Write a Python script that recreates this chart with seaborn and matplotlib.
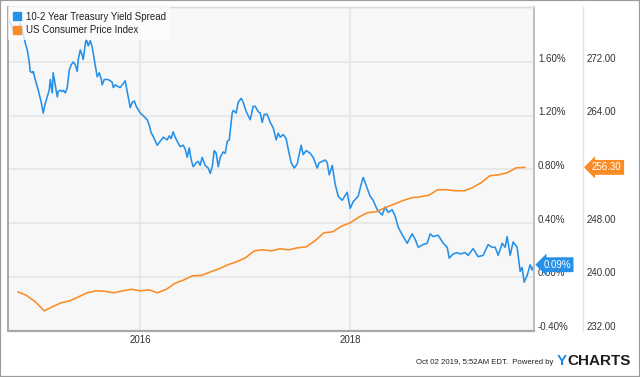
import numpy as np
import pandas as pd
import matplotlib
matplotlib.use("Agg")
import matplotlib.pyplot as plt
import matplotlib.transforms as mtransforms
from matplotlib.lines import Line2D
from matplotlib.patches import Rectangle
import seaborn as sns

# ---------------- data ----------------
series_names = ["10-2 Year Treasury Yield Spread", "US Consumer Price Index"]

# 10-2 year spread: observation time (decimal year) and value in percent
spread_year = [
    2014.743, 2014.771, 2014.790, 2014.810, 2014.829, 2014.857, 2014.876, 2014.905, 2014.924, 2014.943,
    2014.952, 2014.971, 2014.981, 2015.000, 2015.029, 2015.057, 2015.076, 2015.095, 2015.114, 2015.133,
    2015.143, 2015.162, 2015.171, 2015.190, 2015.210, 2015.219, 2015.238, 2015.257, 2015.267, 2015.286,
    2015.305, 2015.324, 2015.343, 2015.362, 2015.381, 2015.400, 2015.410, 2015.429, 2015.448, 2015.457,
    2015.476, 2015.486, 2015.505, 2015.524, 2015.543, 2015.571, 2015.590, 2015.610, 2015.629, 2015.638,
    2015.657, 2015.667, 2015.695, 2015.733, 2015.743, 2015.762, 2015.781, 2015.810, 2015.838, 2015.857,
    2015.876, 2015.905, 2015.924, 2015.943, 2015.962, 2016.000, 2016.029, 2016.067, 2016.086, 2016.105,
    2016.114, 2016.133, 2016.162, 2016.190, 2016.219, 2016.238, 2016.257, 2016.276, 2016.295, 2016.314,
    2016.333, 2016.352, 2016.381, 2016.410, 2016.429, 2016.448, 2016.467, 2016.486, 2016.505, 2016.533,
    2016.552, 2016.571, 2016.590, 2016.619, 2016.648, 2016.667, 2016.686, 2016.705, 2016.724, 2016.743,
    2016.762, 2016.790, 2016.810, 2016.829, 2016.848, 2016.876, 2016.886, 2016.914, 2016.933, 2016.962,
    2016.981, 2017.010, 2017.048, 2017.076, 2017.095, 2017.124, 2017.143, 2017.162, 2017.181, 2017.210,
    2017.238, 2017.267, 2017.295, 2017.314, 2017.333, 2017.362, 2017.390, 2017.410, 2017.438, 2017.467,
    2017.495, 2017.533, 2017.552, 2017.581, 2017.619, 2017.648, 2017.686, 2017.705, 2017.733, 2017.762,
    2017.781, 2017.800, 2017.829, 2017.857, 2017.886, 2017.924, 2017.971, 2018.000, 2018.029, 2018.076,
    2018.105, 2018.124, 2018.162, 2018.190, 2018.219, 2018.257, 2018.305, 2018.333, 2018.362, 2018.400,
    2018.429, 2018.457, 2018.505, 2018.543, 2018.590, 2018.619, 2018.648, 2018.695, 2018.733, 2018.762,
    2018.790, 2018.838, 2018.886, 2018.924, 2018.943, 2018.981, 2019.019, 2019.048, 2019.095, 2019.124,
    2019.171, 2019.219, 2019.267, 2019.314, 2019.352, 2019.381, 2019.410, 2019.448, 2019.476, 2019.495,
    2019.524, 2019.552, 2019.590, 2019.619, 2019.638, 2019.657, 2019.686, 2019.714, 2019.733, 2019.752,
]
spread_pct = [
    1.92, 1.88, 1.83, 1.85, 1.83, 1.89, 1.84, 1.74, 1.69, 1.60,
    1.53, 1.52, 1.53, 1.47, 1.39, 1.30, 1.22, 1.29, 1.34, 1.39,
    1.47, 1.37, 1.52, 1.43, 1.34, 1.38, 1.39, 1.38, 1.39, 1.37,
    1.41, 1.54, 1.58, 1.60, 1.58, 1.53, 1.62, 1.69, 1.65, 1.62,
    1.73, 1.77, 1.72, 1.76, 1.71, 1.58, 1.49, 1.52, 1.47, 1.43,
    1.47, 1.47, 1.47, 1.45, 1.41, 1.43, 1.42, 1.41, 1.44, 1.46,
    1.38, 1.26, 1.30, 1.31, 1.27, 1.22, 1.20, 1.17, 1.13, 1.07,
    1.06, 1.03, 0.98, 1.01, 1.04, 1.03, 1.02, 1.05, 1.03, 1.08,
    1.04, 1.01, 0.97, 0.98, 0.95, 0.89, 0.96, 0.87, 0.82, 0.85,
    0.86, 0.83, 0.89, 0.83, 0.81, 0.77, 0.82, 0.94, 0.92, 0.82,
    0.89, 0.93, 0.92, 1.01, 1.02, 1.22, 1.24, 1.22, 1.30, 1.33,
    1.30, 1.23, 1.17, 1.27, 1.27, 1.23, 1.22, 1.15, 1.21, 1.21,
    1.15, 1.11, 1.02, 1.07, 1.04, 1.06, 1.03, 0.95, 0.85, 0.81,
    0.84, 0.98, 0.91, 0.94, 0.92, 0.89, 0.81, 0.85, 0.86, 0.87,
    0.85, 0.76, 0.83, 0.69, 0.60, 0.57, 0.63, 0.51, 0.56, 0.60,
    0.69, 0.74, 0.66, 0.60, 0.57, 0.50, 0.46, 0.52, 0.48, 0.50,
    0.45, 0.37, 0.30, 0.25, 0.32, 0.28, 0.22, 0.24, 0.25, 0.32,
    0.30, 0.31, 0.25, 0.22, 0.14, 0.17, 0.18, 0.17, 0.18, 0.16,
    0.21, 0.15, 0.16, 0.24, 0.22, 0.22, 0.16, 0.25, 0.22, 0.30,
    0.16, 0.26, 0.22, 0.04, 0.07, -0.04, 0.01, 0.09, 0.05, 0.09,
]

# CPI, monthly values Oct 2014 .. Aug 2019 (plotted at the start of the following month)
cpi_first_plot_date = "2014-11-01"
cpi_values = [
    237.76, 237.24, 236.27, 234.93, 235.53, 236.13, 236.42, 237.02, 237.62, 237.91,
    237.84, 237.62, 237.91, 238.14, 237.91, 238.06, 237.62, 238.14, 239.03, 239.55,
    240.15, 240.22, 240.72, 241.19, 241.79, 242.24, 242.83, 243.87, 244.02, 243.87,
    244.17, 244.02, 244.32, 244.47, 245.40, 246.56, 246.71, 247.53, 248.05, 248.94,
    249.54, 249.69, 250.28, 250.80, 251.33, 251.77, 251.92, 252.15, 252.97, 252.97,
    252.82, 252.82, 253.26, 254.01, 255.05, 255.20, 255.50, 256.24, 256.30,
]

spread_ticks = [-0.4, 0.0, 0.4, 0.8, 1.2, 1.6]
cpi_ticks = [232, 240, 248, 256, 264, 272]
x_tick_years = ["2016", "2018"]
x_range = ("2014-09-28", "2019-10-02")
footer_text = "Oct 02 2019, 5:52AM EDT.  Powered by"

BLUE = "#2590e8"
ORANGE = "#fb8b24"
TEXT = "#333333"

# ---------------- style ----------------
sns.set_style("white")
plt.rcParams["font.family"] = ["Liberation Sans", "DejaVu Sans"]

def dec_year_to_date(years):
    years = np.asarray(years, dtype=float)
    base = pd.Timestamp("2016-01-01")
    return base + pd.to_timedelta((years - 2016.0) * 365.25, unit="D")

df_spread = pd.DataFrame({"date": dec_year_to_date(spread_year), "value": spread_pct})
df_cpi = pd.DataFrame({
    "date": pd.date_range(cpi_first_plot_date, periods=len(cpi_values), freq="MS"),
    "value": cpi_values,
})

W, H = 640, 377
fig = plt.figure(figsize=(W / 100, H / 100), dpi=100)
fig.patch.set_facecolor("white")

left, right, top, bottom = 8, 534, 7, 330.5
ax = fig.add_axes([left / W, 1 - bottom / H, (right - left) / W, (bottom - top) / H])
ax.set_facecolor("#f7f7f7")

sns.lineplot(data=df_spread, x="date", y="value", ax=ax, color=BLUE, linewidth=1.15)
ax2 = ax.twinx()
sns.lineplot(data=df_cpi, x="date", y="value", ax=ax2, color=ORANGE, linewidth=1.15)

ax.set_xlim(pd.Timestamp(x_range[0]), pd.Timestamp(x_range[1]))
ax.set_ylim(-0.40, 2.01)
ax2.set_ylim(232, 280.2)

ax.set_xticks([pd.Timestamp(f"{y}-01-01") for y in x_tick_years])
ax.set_xticklabels(x_tick_years)
ax.set_yticks(spread_ticks)
ax.set_yticklabels([f"{v:.2f}%" for v in spread_ticks])
ax2.set_yticks(cpi_ticks)
# the last-value tag covers the tick label nearest to it, as in the reference
cpi_tag_hidden = min(cpi_ticks, key=lambda t: abs(t - cpi_values[-1]))
ax2.set_yticklabels(["" if v == cpi_tag_hidden else f"{v:.2f}" for v in cpi_ticks])

for a in (ax, ax2):
    a.set_xlabel("")
    a.set_ylabel("")

ax.yaxis.tick_right()
ax.tick_params(axis="y", length=0, pad=2.9, labelsize=7, labelcolor=TEXT)
ax2.tick_params(axis="y", length=0, pad=38, labelsize=7, labelcolor=TEXT)
ax.tick_params(axis="x", length=0, pad=3.2, labelsize=7, labelcolor=TEXT)

ax.grid(True, axis="both", color="#e6e6e6", linewidth=1.2)
ax.set_axisbelow(True)
ax2.grid(False)

for name, sp in ax.spines.items():
    sp.set_visible(True)
for a in (ax, ax2):
    a.spines["left"].set_color("#a8a8a8")
    a.spines["left"].set_linewidth(1.3)
    a.spines["bottom"].set_color("#a8a8a8")
    a.spines["bottom"].set_linewidth(1.5)
    a.spines["top"].set_color("#dcdcdc")
    a.spines["top"].set_linewidth(1.0)
    a.spines["right"].set_color("#bdbdbd")
    a.spines["right"].set_linewidth(1.2)

# shift the y tick labels slightly above their grid lines
offset = mtransforms.ScaledTranslation(0, 4.5 / 100, fig.dpi_scale_trans)
for a in (ax, ax2):
    for tick in a.yaxis.get_major_ticks():
        tick.label1.set_transform(tick.label1.get_transform() + offset)
        tick.label2.set_transform(tick.label2.get_transform() + offset)

# legend
handles = [
    Line2D([0], [0], marker="s", linestyle="none", markersize=5.5,
           markerfacecolor=BLUE, markeredgecolor=BLUE),
    Line2D([0], [0], marker="s", linestyle="none", markersize=5.5,
           markerfacecolor=ORANGE, markeredgecolor=ORANGE),
]
leg = ax2.legend(handles, series_names, loc="upper left", bbox_to_anchor=(0, 1),
                 borderaxespad=0, frameon=True, fancybox=False, facecolor="white",
                 edgecolor="none", framealpha=0.75, fontsize=7, handlelength=0.8,
                 handletextpad=0.5, borderpad=0.5, labelspacing=0.35)
for t in leg.get_texts():
    t.set_color("#222222")

# last-value tags
ax.annotate(f"{spread_pct[-1]:.2f}%", xy=(1, spread_pct[-1]),
            xycoords=("axes fraction", "data"), xytext=(6.8, 0), textcoords="offset points",
            ha="left", va="center", fontsize=7, color="white", annotation_clip=False,
            bbox=dict(boxstyle="larrow,pad=0.25", fc=BLUE, ec="none"), zorder=10)
ax2.annotate(f"{cpi_values[-1]:.2f}", xy=(1, cpi_values[-1]),
             xycoords=("axes fraction", "data"), xytext=(41.8, 0), textcoords="offset points",
             ha="left", va="center", fontsize=7, color="white", annotation_clip=False,
             bbox=dict(boxstyle="larrow,pad=0.25", fc=ORANGE, ec="none"), zorder=10)

# separator between the two value columns
fig.add_artist(Line2D([583 / W, 583 / W], [1 - 7 / H, 1 - 331 / H],
                      transform=fig.transFigure, color="#e4e4e4", linewidth=1.0))

# footer
fig.text(553 / W, 1 - 362.5 / H, footer_text, ha="right", va="center",
         fontsize=5.6, color="#222222")
fig.text(557 / W, 1 - 361 / H, "Y", ha="left", va="center", fontsize=11,
         fontweight="bold", color="#1a8be6")
fig.text(567.5 / W, 1 - 361 / H, "CHARTS", ha="left", va="center", fontsize=11,
         fontweight="bold", color="#1d1d1d")

# outer frame
fig.add_artist(Rectangle((0, 0), 1, 1, transform=fig.transFigure, fill=False,
                         edgecolor="#9c9c9c", linewidth=1.6))

fig.savefig("out.png", dpi=100)
